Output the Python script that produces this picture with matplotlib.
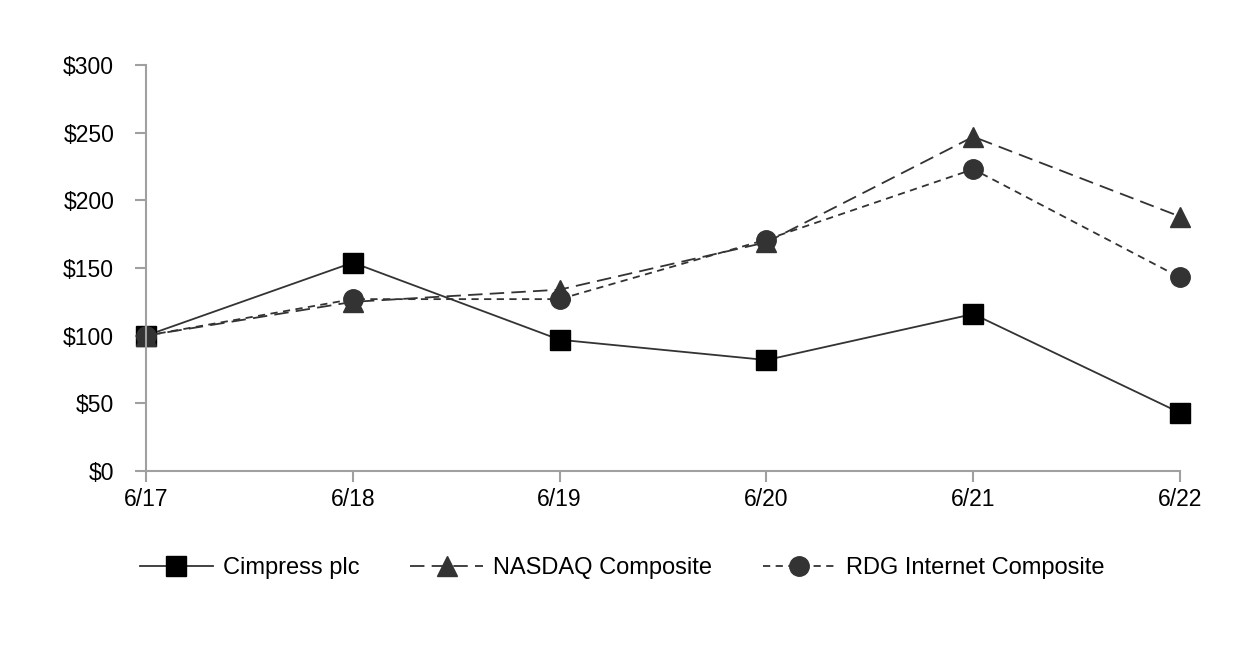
import matplotlib
matplotlib.use("Agg")
import matplotlib.pyplot as plt

plt.rcParams['font.family'] = ['Liberation Sans', 'DejaVu Sans']

dates = ['6/17', '6/18', '6/19', '6/20', '6/21', '6/22']
cimpress = [100, 154, 97, 82, 116, 43]
nasdaq = [100, 125, 134, 169, 247, 188]
rdg = [100, 127, 127, 171, 223, 143]
yticks = [0, 50, 100, 150, 200, 250, 300]

fig = plt.figure(figsize=(12.44, 6.52), dpi=100)
ax = fig.add_axes([0.1174, 0.2776, 0.8312, 0.6227])

x = range(len(dates))
ax.plot(x, cimpress, color='#333333', linewidth=1.3, linestyle='-',
        marker='s', markersize=14, markerfacecolor='black', markeredgecolor='black',
        label='Cimpress plc', clip_on=False)
ax.plot(x, nasdaq, color='#333333', linewidth=1.3, linestyle=(0, (8, 4)),
        marker='^', markersize=14, markerfacecolor='#333333', markeredgecolor='#333333',
        label='NASDAQ Composite', clip_on=False)
ax.plot(x, rdg, color='#333333', linewidth=1.3, linestyle=(0, (4, 3)),
        marker='o', markersize=14, markerfacecolor='#333333', markeredgecolor='#333333',
        label='RDG Internet Composite', clip_on=False)

ax.set_xlim(0, len(dates) - 1)
ax.set_ylim(0, 300)
ax.set_xticks(list(x))
ax.set_xticklabels(dates)
ax.set_yticks(yticks)
ax.set_yticklabels(['$' + str(v) for v in yticks])

for s in ['top', 'right']:
    ax.spines[s].set_visible(False)
for s in ['left', 'bottom']:
    ax.spines[s].set_color('#a0a0a0')
    ax.spines[s].set_linewidth(1.5)
ax.tick_params(axis='both', colors='#a0a0a0', width=1.5, length=8,
               labelsize=16.5, labelcolor='black', direction='out')
ax.tick_params(axis='y', pad=15)
ax.tick_params(axis='x', pad=4)

fig.legend(loc='center', bbox_to_anchor=(0.5, 0.129), ncol=3, frameon=False,
           fontsize=17, handlelength=3.1, columnspacing=2.15, handletextpad=0.42)

fig.savefig('out.png', dpi=100)
